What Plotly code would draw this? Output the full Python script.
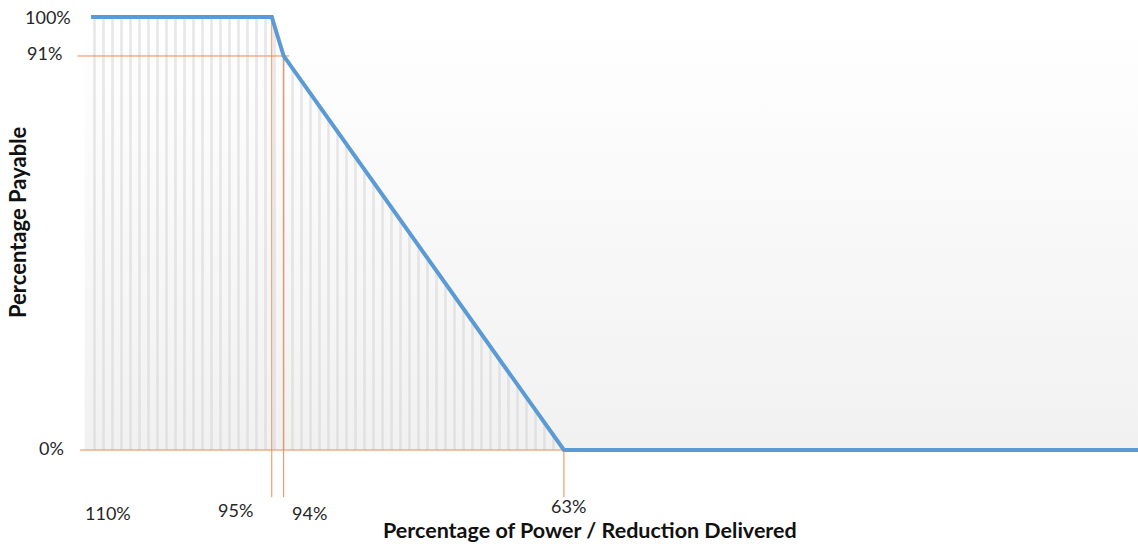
import plotly.graph_objects as go

# points of the payment curve, placed along the (non-linear) delivered axis
delivered_labels = ['110%', '95%', '94%', '63%']
delivered_step = [0, 19.8, 21.1, 51.8]
payable = [100, 100, 91, 0]
last_step = 114.7
payable_labels = ['100%', '91%', '0%']
payable_ticks = [100, 91, 0]

W, H = 1138, 544
font = 'Lato, Calibri, sans-serif'
orange = '#F0894A'

x_curve = delivered_step + [last_step]
y_curve = payable + [0]

fig = go.Figure()

# light grey gradient backdrop
fig.add_trace(go.Scatter(
    x=[-0.7, last_step, last_step, -0.7, -0.7], y=[0, 0, 100, 100, 0],
    fill='toself', mode='none',
    fillgradient=dict(type='vertical', colorscale=[[0, '#F1F1F1'], [1, '#FFFFFF']]),
    hoverinfo='skip', showlegend=False))

# drop lines under the curve
fig.add_trace(go.Scatter(
    x=delivered_step, y=payable, fill='tozeroy', mode='none',
    fillcolor='rgba(0,0,0,0)',
    fillpattern=dict(shape='|', size=9, solidity=0.3,
                     fgcolor='#D2D2D2', bgcolor='rgba(0,0,0,0)'),
    hoverinfo='skip', showlegend=False))

# orange reference lines
ox, oy = [], []
ox += [-1.5, delivered_step[2] + 0.6, None]
oy += [payable[2], payable[2], None]
ox += [-1.2, delivered_step[3], None]
oy += [0, 0, None]
for s, top in [(delivered_step[1], 100.5), (delivered_step[2], payable[2]), (delivered_step[3], 0)]:
    ox += [s, s, None]
    oy += [-10.9, top, None]
fig.add_trace(go.Scatter(x=ox, y=oy, mode='lines', line=dict(color=orange, width=1),
                         hoverinfo='skip', showlegend=False))

# payment curve
fig.add_trace(go.Scatter(x=x_curve, y=y_curve, mode='lines',
                         line=dict(color='#5B9BD5', width=4), showlegend=False))

ann = []
# y labels (pixel positions)
for lab, px, py in zip(payable_labels, [73, 64, 66], [17, 53, 448]):
    ann.append(dict(text=lab, x=px / W, y=1 - py / H, xref='paper', yref='paper',
                    xanchor='right', yanchor='middle', showarrow=False,
                    font=dict(family=font, size=18, color='#262626')))
# x labels
for lab, px, py in zip(delivered_labels, [108, 235, 309, 568], [513, 510, 513, 506]):
    ann.append(dict(text=lab, x=px / W, y=1 - py / H, xref='paper', yref='paper',
                    xanchor='center', yanchor='middle', showarrow=False,
                    font=dict(family=font, size=18, color='#262626')))
ann.append(dict(text='<b>Percentage of Power / Reduction Delivered</b>', x=590 / W, y=1 - 530 / H,
                xref='paper', yref='paper', xanchor='center', yanchor='middle', showarrow=False,
                font=dict(family=font, size=21.5, color='#111111')))
ann.append(dict(text='<b>Percentage Payable</b>', x=17 / W, y=1 - 222 / H, textangle=-90,
                xref='paper', yref='paper', xanchor='center', yanchor='middle', showarrow=False,
                font=dict(family=font, size=22, color='#111111')))

fig.update_layout(
    width=W, height=H, margin=dict(l=0, r=0, t=0, b=0),
    plot_bgcolor='white', paper_bgcolor='white',
    annotations=ann,
    xaxis=dict(range=[-9.97, 114.68], visible=False, fixedrange=True),
    yaxis=dict(range=[-21.71, 103.93], visible=False, fixedrange=True),
)

fig.write_html("out.html", config={'displayModeBar': False},
               post_script="document.body.style.margin='0';document.body.style.overflow='hidden';")
